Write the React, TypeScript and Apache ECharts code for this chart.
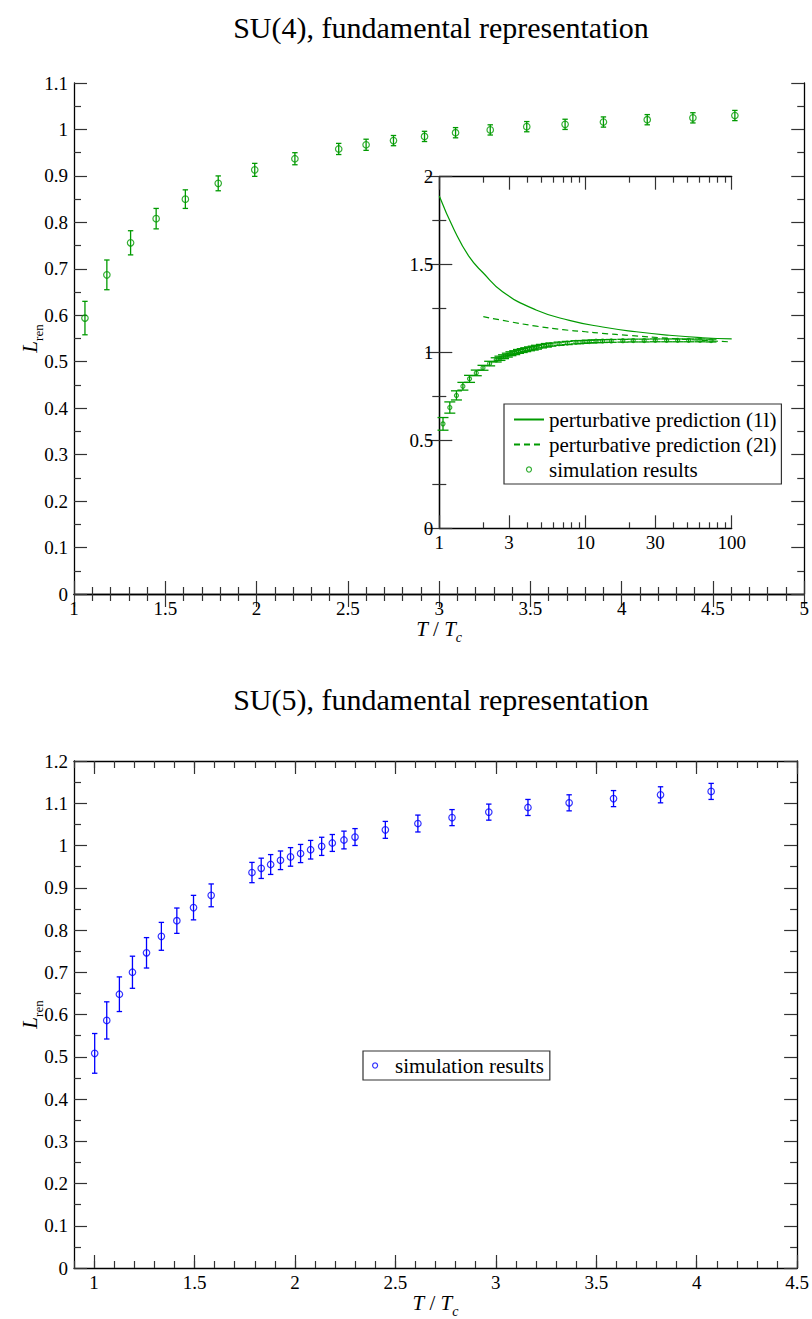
import React, { useEffect, useRef } from 'react';
import * as echarts from 'echarts';

// ---------- SU(4) main panel data ----------
const su4T = [1.06, 1.18, 1.31, 1.45, 1.61, 1.79, 1.99, 2.21, 2.45, 2.6, 2.75, 2.92, 3.09, 3.28, 3.48, 3.69, 3.9, 4.14, 4.39, 4.62];
const su4L = [0.594, 0.687, 0.756, 0.808, 0.85, 0.884, 0.913, 0.937, 0.958, 0.967, 0.976, 0.985, 0.993, 0.999, 1.006, 1.011, 1.016, 1.021, 1.025, 1.03];
const su4Err = [0.036, 0.032, 0.026, 0.022, 0.02, 0.016, 0.014, 0.013, 0.012, 0.012, 0.011, 0.011, 0.011, 0.011, 0.011, 0.011, 0.011, 0.011, 0.011, 0.011];

// ---------- inset: additional high-temperature points ----------
const insetExtraT = [5.0, 5.4, 5.8, 6.6, 7.5, 8.6, 9.6, 10.6, 11.8, 13.1, 15.0, 18.0, 21.2, 25.2, 30.0, 35.9, 42.7, 50.8, 60.7, 72.2];
const insetExtraL = [1.036, 1.041, 1.045, 1.05, 1.054, 1.058, 1.06, 1.062, 1.064, 1.065, 1.066, 1.067, 1.068, 1.068, 1.069, 1.069, 1.069, 1.069, 1.069, 1.068];
const insetExtraErr = [0.01, 0.01, 0.009, 0.009, 0.009, 0.009, 0.008, 0.008, 0.008, 0.008, 0.008, 0.008, 0.008, 0.008, 0.008, 0.008, 0.008, 0.008, 0.008, 0.008];

// perturbative predictions
const pert1T = [1, 1.26, 1.6, 2.0, 2.71, 4.59, 7.75, 13.1, 22.2, 37.4, 63.1, 100];
const pert1L = [1.89, 1.7, 1.545, 1.452, 1.346, 1.242, 1.183, 1.145, 1.118, 1.098, 1.084, 1.077];
const pert2T = [2, 3, 4.6, 7, 10, 13, 20, 37, 60, 100];
const pert2L = [1.204, 1.176, 1.15, 1.13, 1.118, 1.109, 1.097, 1.081, 1.07, 1.06];

// ---------- SU(5) panel data ----------
const su5T = [1.003, 1.063, 1.126, 1.191, 1.261, 1.335, 1.412, 1.495, 1.583, 1.786, 1.832, 1.879, 1.928, 1.978, 2.028, 2.078, 2.133, 2.186, 2.244, 2.299, 2.45, 2.612, 2.782, 2.965, 3.16, 3.365, 3.586, 3.82, 4.072];
const su5L = [0.508, 0.586, 0.648, 0.7, 0.746, 0.785, 0.822, 0.853, 0.882, 0.936, 0.946, 0.955, 0.965, 0.973, 0.981, 0.99, 0.998, 1.006, 1.013, 1.02, 1.037, 1.052, 1.066, 1.079, 1.09, 1.101, 1.111, 1.12, 1.128];
const su5Err = [0.047, 0.044, 0.041, 0.038, 0.036, 0.033, 0.03, 0.029, 0.027, 0.024, 0.024, 0.0235, 0.022, 0.022, 0.0215, 0.022, 0.0215, 0.02, 0.021, 0.02, 0.02, 0.02, 0.019, 0.019, 0.019, 0.019, 0.019, 0.019, 0.019];

// ---------- tick labels ----------
const insetMajorT = [1, 3, 10, 30, 100];
const insetMinorT = [2, 4, 5, 6, 7, 8, 9, 20, 40, 50, 60, 70, 80, 90];
const su5MajorTicks = [1, 1.5, 2, 2.5, 3, 3.5, 4, 4.5];

const legendNames: Record<string, string> = {
  p1: 'perturbative prediction (1l)',
  p2: 'perturbative prediction (2l)',
  sim4: 'simulation results',
  sim5: 'simulation results',
};

const titles = ['SU(4), fundamental representation', 'SU(5), fundamental representation'];

const FONT = 'Liberation Serif';
const GREEN = '#009a00';
const BLUE = '#0000ff';
const lg = (v: number) => Math.log10(v);

function errData(xs: number[], ys: number[], es: number[], tf: (v: number) => number = (v) => v) {
  return xs.map((x, i) => [tf(x), ys[i] - es[i], ys[i] + es[i]]);
}

function errSeries(data: number[][], xi: number, yi: number, color: string, w: number) {
  return {
    type: 'custom',
    xAxisIndex: xi,
    yAxisIndex: yi,
    data,
    silent: true,
    z: 2,
    encode: { x: 0, y: [1, 2] },
    renderItem: (params: any, api: any) => {
      const x = api.value(0);
      const lo = api.coord([x, api.value(1)]);
      const hi = api.coord([x, api.value(2)]);
      const style = { stroke: color, lineWidth: 1.3, fill: 'none' };
      return {
        type: 'group',
        children: [
          { type: 'line', shape: { x1: lo[0], y1: lo[1], x2: hi[0], y2: hi[1] }, style },
          { type: 'line', shape: { x1: lo[0] - w, y1: lo[1], x2: lo[0] + w, y2: lo[1] }, style },
          { type: 'line', shape: { x1: hi[0] - w, y1: hi[1], x2: hi[0] + w, y2: hi[1] }, style },
        ],
      };
    },
  };
}

const axisLine = { show: true, lineStyle: { color: '#000', width: 1.3 } };
const tickStyle = { color: '#333', width: 1.2 };
const majorTick = (len: number) => ({ show: true, inside: true, length: len, lineStyle: tickStyle });
const minorTick = (split: number) => ({ show: true, splitNumber: split, length: 7, lineStyle: tickStyle });
const label = { color: '#000', fontFamily: FONT, fontSize: 19, lineHeight: 16, margin: 6, showMinLabel: true, showMaxLabel: true };
const noLabel = { show: false };
const noSplit = { show: false };

const xName = '{i|T}{n| / }{i|T}{s|c}';
const yName = '{l|L}{s|ren}';
const nameStyleX = {
  fontFamily: FONT,
  fontSize: 21,
  color: '#000',
  rich: {
    i: { fontFamily: FONT, fontSize: 21, fontStyle: 'italic', lineHeight: 21, verticalAlign: 'top' },
    n: { fontFamily: FONT, fontSize: 21, lineHeight: 21, verticalAlign: 'top' },
    s: { fontFamily: FONT, fontSize: 14, fontStyle: 'italic', lineHeight: 26, verticalAlign: 'bottom' },
  },
};
const nameStyleY = {
  fontFamily: FONT,
  fontSize: 21,
  color: '#000',
  rich: {
    l: { fontFamily: FONT, fontSize: 21, fontStyle: 'italic', lineHeight: 21, verticalAlign: 'top' },
    s: { fontFamily: FONT, fontSize: 13, lineHeight: 26, verticalAlign: 'bottom' },
  },
};

function buildOption() {
  const su4Pts = su4T.map((t, i) => [t, su4L[i]]);
  const insetT = su4T.concat(insetExtraT);
  const insetL = su4L.concat(insetExtraL);
  const insetE = su4Err.concat(insetExtraErr);
  const insetPts = insetT.map((t, i) => [lg(t), insetL[i]]);
  const su5Pts = su5T.map((t, i) => [t, su5L[i]]);

  const grids = [
    { left: 74, top: 83, width: 734, height: 511 },
    { left: 439.3, top: 176.7, width: 292.4, height: 351.6, show: true, backgroundColor: '#fff', borderWidth: 0 },
    { left: 74, top: 761, width: 734, height: 510 },
  ];

  const xNameOpts = { name: xName, nameLocation: 'middle', nameGap: 24, nameMoveOverlap: false, nameTextStyle: nameStyleX };
  const yNameOpts = { name: yName, nameLocation: 'middle', nameGap: 29, nameMoveOverlap: false, nameTextStyle: nameStyleY };

  const xAxes: any[] = [
    {
      type: 'value', gridIndex: 0, position: 'bottom', min: 1, max: 5, interval: 0.5,
      axisLine, axisTick: majorTick(13), minorTick: minorTick(5), splitLine: noSplit, axisLabel: label,
      ...xNameOpts,
    },
    {
      type: 'value', gridIndex: 0, position: 'top', min: 1, max: 5, interval: 0.5,
      axisLine, axisTick: majorTick(13), minorTick: minorTick(5), splitLine: noSplit, axisLabel: noLabel,
    },
    {
      type: 'value', gridIndex: 1, position: 'bottom', min: 0, max: 2,
      axisLine, splitLine: noSplit,
      axisTick: { ...majorTick(13), customValues: insetMajorT.map(lg) },
      axisLabel: { ...label, customValues: insetMajorT.map(lg), formatter: (v: number) => String(Math.round(Math.pow(10, v))) },
    },
    {
      type: 'value', gridIndex: 1, position: 'bottom', min: 0, max: 2,
      axisLine: { show: false }, splitLine: noSplit, axisLabel: noLabel,
      axisTick: { ...majorTick(6), customValues: insetMinorT.map(lg) },
    },
    {
      type: 'value', gridIndex: 1, position: 'top', min: 0, max: 2,
      axisLine, splitLine: noSplit, axisLabel: noLabel,
      axisTick: { ...majorTick(13), customValues: insetMajorT.map(lg) },
    },
    {
      type: 'value', gridIndex: 1, position: 'top', min: 0, max: 2,
      axisLine: { show: false }, splitLine: noSplit, axisLabel: noLabel,
      axisTick: { ...majorTick(6), customValues: insetMinorT.map(lg) },
    },
    {
      type: 'value', gridIndex: 2, position: 'bottom', min: 0.9, max: 4.5, interval: 0.1,
      axisLine, splitLine: noSplit, axisLabel: noLabel, axisTick: majorTick(7),
    },
    {
      type: 'value', gridIndex: 2, position: 'bottom', min: 0.9, max: 4.5,
      axisLine: { show: false }, splitLine: noSplit,
      axisTick: { ...majorTick(13), customValues: su5MajorTicks },
      axisLabel: { ...label, customValues: su5MajorTicks },
      ...xNameOpts,
    },
    {
      type: 'value', gridIndex: 2, position: 'top', min: 0.9, max: 4.5, interval: 0.1,
      axisLine, splitLine: noSplit, axisLabel: noLabel, axisTick: majorTick(7),
    },
    {
      type: 'value', gridIndex: 2, position: 'top', min: 0.9, max: 4.5,
      axisLine: { show: false }, splitLine: noSplit, axisLabel: noLabel,
      axisTick: { ...majorTick(13), customValues: su5MajorTicks },
    },
  ];

  const yAxes: any[] = [
    {
      type: 'value', gridIndex: 0, position: 'left', min: 0, max: 1.1, interval: 0.1,
      axisLine, axisTick: majorTick(13), minorTick: minorTick(2), splitLine: noSplit, axisLabel: label,
      ...yNameOpts,
    },
    {
      type: 'value', gridIndex: 0, position: 'right', min: 0, max: 1.1, interval: 0.1,
      axisLine, axisTick: majorTick(13), minorTick: minorTick(2), splitLine: noSplit, axisLabel: noLabel,
    },
    {
      type: 'value', gridIndex: 1, position: 'left', min: 0, max: 2, interval: 0.5,
      axisLine, axisTick: majorTick(13), minorTick: minorTick(2), splitLine: noSplit, axisLabel: label,
    },
    {
      type: 'value', gridIndex: 1, position: 'right', min: 0, max: 2, interval: 0.5,
      axisLine, axisTick: majorTick(13), minorTick: minorTick(2), splitLine: noSplit, axisLabel: noLabel,
    },
    {
      type: 'value', gridIndex: 2, position: 'left', min: 0, max: 1.2, interval: 0.1,
      axisLine, axisTick: majorTick(13), minorTick: minorTick(2), splitLine: noSplit, axisLabel: label,
      ...yNameOpts,
    },
    {
      type: 'value', gridIndex: 2, position: 'right', min: 0, max: 1.2, interval: 0.1,
      axisLine, axisTick: majorTick(13), minorTick: minorTick(2), splitLine: noSplit, axisLabel: noLabel,
    },
  ];

  const scatterStyle = (color: string) => ({ color: 'rgba(0,0,0,0)', borderColor: color, borderWidth: 1.2 });

  const series: any[] = [
    errSeries(errData(su4T, su4L, su4Err), 0, 0, GREEN, 2.7),
    { type: 'scatter', name: 'main4', xAxisIndex: 0, yAxisIndex: 0, data: su4Pts, symbol: 'circle', symbolSize: 6.5, itemStyle: scatterStyle(GREEN), z: 3 },
    errSeries(errData(insetT, insetL, insetE, lg), 2, 2, GREEN, 5.5),
    { type: 'scatter', name: 'sim4', xAxisIndex: 2, yAxisIndex: 2, data: insetPts, symbol: 'circle', symbolSize: 4, itemStyle: scatterStyle(GREEN), z: 3 },
    {
      type: 'line', name: 'p1', xAxisIndex: 2, yAxisIndex: 2, data: pert1T.map((t, i) => [lg(t), pert1L[i]]),
      showSymbol: false, symbol: 'none', smooth: 0.5, lineStyle: { color: GREEN, width: 1.2 }, itemStyle: { color: GREEN }, z: 4,
    },
    {
      type: 'line', name: 'p2', xAxisIndex: 2, yAxisIndex: 2, data: pert2T.map((t, i) => [lg(t), pert2L[i]]),
      showSymbol: false, symbol: 'none', smooth: 0.5, lineStyle: { color: GREEN, width: 1.2, type: [6, 4] }, itemStyle: { color: GREEN }, z: 4,
    },
    errSeries(errData(su5T, su5L, su5Err), 7, 4, BLUE, 2.7),
    { type: 'scatter', name: 'sim5', xAxisIndex: 7, yAxisIndex: 4, data: su5Pts, symbol: 'circle', symbolSize: 6.5, itemStyle: scatterStyle(BLUE), z: 3 },
  ];

  const legendText = { fontFamily: FONT, fontSize: 21, color: '#000', lineHeight: 21 };
  const hiddenSymbol = { color: 'rgba(0,0,0,0)', borderWidth: 0, opacity: 0 };

  return {
    animation: false,
    backgroundColor: '#fff',
    title: [
      { text: titles[0], left: 441, top: 12, textAlign: 'center', padding: 0, textStyle: { fontFamily: FONT, fontSize: 30, fontWeight: 'normal', color: '#000' } },
      { text: titles[1], left: 441, top: 684, textAlign: 'center', padding: 0, textStyle: { fontFamily: FONT, fontSize: 30, fontWeight: 'normal', color: '#000' } },
    ],
    grid: grids,
    xAxis: xAxes,
    yAxis: yAxes,
    legend: [
      {
        data: [
          { name: 'p1', itemStyle: hiddenSymbol },
          { name: 'p2', itemStyle: hiddenSymbol },
          { name: 'sim4', icon: 'circle', itemStyle: { borderWidth: 1.2 } },
        ],
        orient: 'vertical', left: 504, top: 404, padding: [5, 5, 4, 9], itemWidth: 30, itemHeight: 5, itemGap: 4,
        borderColor: '#333', borderWidth: 1.2, backgroundColor: '#fff', textStyle: legendText,
        formatter: (n: string) => legendNames[n], selectedMode: false, z: 10,
      },
      {
        data: [{ name: 'sim5', icon: 'circle', itemStyle: { borderWidth: 1.2 } }],
        orient: 'vertical', left: 363, top: 1051, padding: [4, 6, 4, 9], itemWidth: 30, itemHeight: 5, itemGap: 4,
        borderColor: '#333', borderWidth: 1.2, backgroundColor: '#fff', textStyle: legendText,
        formatter: (n: string) => legendNames[n], selectedMode: false, z: 10,
      },
    ],
    series,
  };
}

export default function App() {
  const ref = useRef<HTMLDivElement>(null);
  useEffect(() => {
    if (!ref.current) return;
    const chart = echarts.init(ref.current, null, { renderer: 'svg' });
    chart.setOption(buildOption() as any);
    return () => chart.dispose();
  }, []);
  return (
    <div
      ref={ref}
      style={{ position: 'fixed', left: 0, top: 0, width: 812, height: 1319, background: '#fff' }}
    />
  );
}
